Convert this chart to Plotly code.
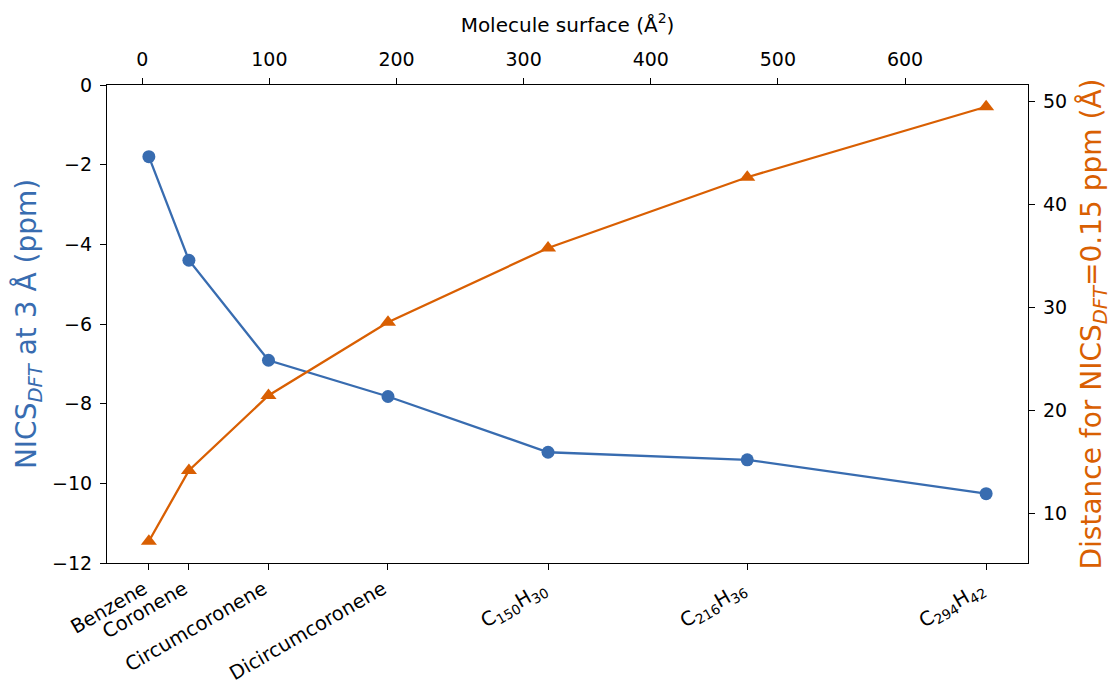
import plotly.graph_objects as go

# Data
molecules = ["Benzene", "Coronene", "Circumcoronene", "Dicircumcoronene",
             "C<sub>150</sub>H<sub>30</sub>", "C<sub>216</sub>H<sub>36</sub>",
             "C<sub>294</sub>H<sub>42</sub>"]
surface = [5.2, 36.7, 99.3, 193.3, 319.2, 475.9, 663.8]          # Å^2
nics_3A = [-1.80, -4.40, -6.91, -7.82, -9.22, -9.41, -10.26]      # ppm
distance_015 = [7.27, 14.15, 21.43, 28.54, 35.75, 42.62, 49.47]   # Å
top_ticks = [0, 100, 200, 300, 400, 500, 600]
left_ticks = [0, -2, -4, -6, -8, -10, -12]
right_ticks = [10, 20, 30, 40, 50]

BLUE = "#386cb0"
ORANGE = "#d95f02"
FONT = "DejaVu Sans"

def padded(vals, frac=0.05):
    lo, hi = min(vals), max(vals)
    s = hi - lo
    return [lo - frac * s, hi + frac * s]

xr = padded(surface)
y2r = padded(distance_015)

fig = go.Figure()
fig.add_trace(go.Scatter(x=surface, y=nics_3A, mode="lines+markers",
                         line=dict(color=BLUE, width=2.3),
                         marker=dict(symbol="circle", size=13, color=BLUE),
                         xaxis="x", yaxis="y", showlegend=False))
fig.add_trace(go.Scatter(x=surface, y=distance_015, mode="lines+markers",
                         line=dict(color=ORANGE, width=2.3),
                         marker=dict(symbol="triangle-up", size=14, color=ORANGE),
                         xaxis="x", yaxis="y2", showlegend=False))
# invisible helper trace so the top axis is drawn
fig.add_trace(go.Scatter(x=surface, y=nics_3A, mode="markers",
                         marker=dict(opacity=0), hoverinfo="skip",
                         xaxis="x2", yaxis="y", showlegend=False))

axis_common = dict(showgrid=False, zeroline=False, showline=True,
                   linecolor="black", linewidth=1.2, ticks="outside",
                   ticklen=6, tickwidth=1.2, tickcolor="black",
                   automargin=False)
tick_font = dict(family=FONT, size=19, color="black")

fig.update_layout(
    width=1112, height=686,
    margin=dict(l=107, r=84, t=85, b=123),
    paper_bgcolor="white", plot_bgcolor="white",
    font=dict(family=FONT, color="black"),
    xaxis=dict(range=xr, tickmode="array", tickvals=surface, ticktext=molecules,
               tickangle=-30, anchor="y", side="bottom", mirror=False,
               ticklabelshift=-5, ticklabelstandoff=0,
               tickfont=dict(family=FONT, size=19.5, color="black"),
               **axis_common),
    xaxis2=dict(range=xr, tickmode="array", tickvals=top_ticks,
                ticktext=[str(t) for t in top_ticks],
                overlaying="x", side="top", anchor="y",
                tickfont=tick_font, ticklabelstandoff=4,
                title=dict(text="Molecule surface (Å<sup>2</sup>)",
                           font=dict(family=FONT, size=20, color="black"),
                           standoff=10),
                **axis_common),
    yaxis=dict(range=[-12, 0], tickmode="array", tickvals=left_ticks,
               ticktext=["0" if t == 0 else "\u2212" + str(abs(t)) for t in left_ticks],
               tickfont=tick_font, ticklabelstandoff=4,
               title=dict(text="NICS<sub><i>DFT</i></sub> at 3 Å (ppm)",
                          font=dict(family=FONT, size=28, color=BLUE),
                          standoff=7),
               **axis_common),
    yaxis2=dict(range=y2r, tickmode="array", tickvals=right_ticks,
                ticktext=[str(t) for t in right_ticks],
                overlaying="y", side="right", anchor="x",
                tickfont=tick_font, ticklabelstandoff=4,
                title=dict(text="Distance for NICS<sub><i>DFT</i></sub>=0.15 ppm (Å)",
                           font=dict(family=FONT, size=28, color=ORANGE),
                           standoff=17),
                **axis_common),
)

fig.write_html("out.html")
